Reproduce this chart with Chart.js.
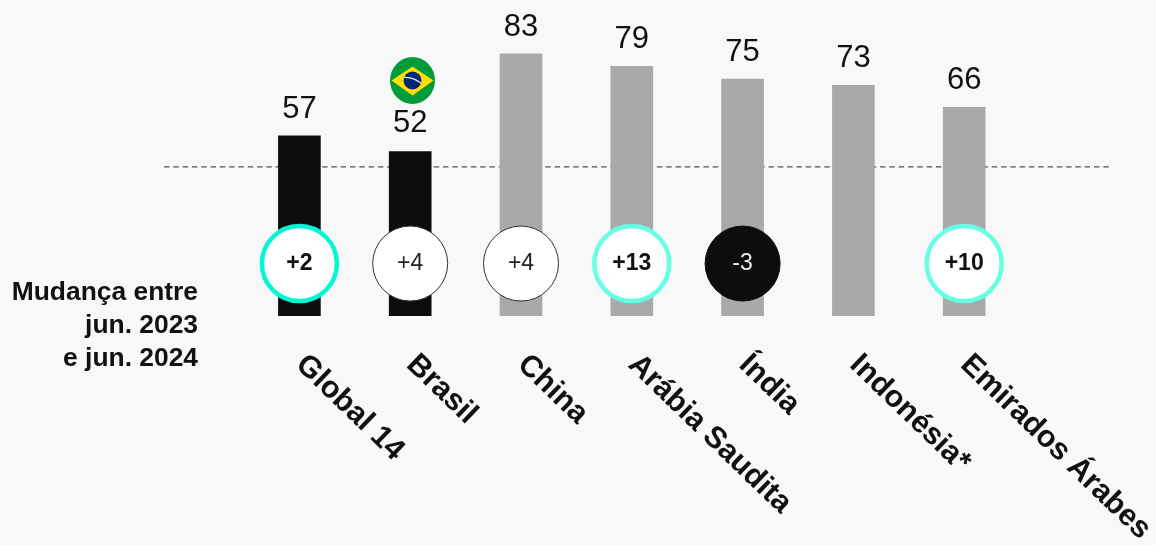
<!DOCTYPE html>
<html lang="pt-BR">
<head>
<meta charset="utf-8">
<title>Mudança entre jun. 2023 e jun. 2024</title>
<script src="https://cdn.jsdelivr.net/npm/chart.js@4"></script>
<style>
  html, body { margin: 0; padding: 0; background: #f8f8f8; }
  #wrap { width: 1156px; height: 545px; }
</style>
</head>
<body>
<div id="wrap"><canvas id="chart" width="1156" height="545"></canvas></div>
<script>
const categories = ['Global 14', 'Brasil', 'China', 'Arábia Saudita', 'Índia', 'Indonésia*', 'Emirados Árabes'];
const values = [57, 52, 83, 79, 75, 73, 66];
const changes = ['+2', '+4', '+4', '+13', '-3', null, '+10'];
const sideLabel = ['Mudança entre', 'jun. 2023', 'e jun. 2024'];
const referenceValue = 47.2;
const badgeLevel = 16.6;

const FONT = '"Liberation Sans", Arial, sans-serif';
const barColors = ['#0d0d0d', '#0d0d0d', '#a9a9a9', '#a9a9a9', '#a9a9a9', '#a9a9a9', '#a9a9a9'];
const badgeFill = ['#ffffff', '#ffffff', '#ffffff', '#ffffff', '#0d0d0d', '#ffffff', '#ffffff'];
const badgeBorder = ['#00f8d4', '#333333', '#333333', '#66ffe4', '#0d0d0d', '#ffffff', '#66ffe4'];
const badgeBorderWidth = [4.5, 1, 1, 4.5, 1, 0, 4.5];
const badgeBold = [true, false, false, true, false, false, true];
const badgeText = ['#111111', '#222222', '#222222', '#111111', '#eeeeee', '#111111', '#111111'];

// Ligne pointillée derrière les barres
const referenceLine = {
  id: 'referenceLine',
  beforeDatasetsDraw(chart) {
    const ctx = chart.ctx;
    const y = chart.scales.y.getPixelForValue(referenceValue);
    ctx.save();
    ctx.strokeStyle = '#505050';
    ctx.lineWidth = 1.4;
    ctx.setLineDash([5.5, 3.8]);
    ctx.beginPath();
    ctx.moveTo(164, y);
    ctx.lineTo(1112, y);
    ctx.stroke();
    ctx.restore();
  },
};

// Textes : valeurs, badges, catégories inclinées, drapeau
const annotations = {
  id: 'annotations',
  afterDraw(chart) {
    const ctx = chart.ctx;
    const xs = chart.scales.x;
    const ys = chart.scales.y;
    ctx.save();

    values.forEach((v, i) => {
      const x = xs.getPixelForValue(i);
      ctx.fillStyle = '#111111';
      ctx.font = '31px ' + FONT;
      ctx.textAlign = 'center';
      ctx.textBaseline = 'alphabetic';
      // Le 52 est un peu plus haut à cause du drapeau
      ctx.fillText(String(v), x, ys.getPixelForValue(v) - (i === 1 ? 20 : 18));

      if (changes[i]) {
        ctx.fillStyle = badgeText[i];
        ctx.font = (badgeBold[i] ? 'bold ' : '') + '23px ' + FONT;
        ctx.textBaseline = 'middle';
        ctx.fillText(changes[i], x, ys.getPixelForValue(badgeLevel) + 0.5);
      }

      ctx.save();
      ctx.translate(x + 1, 360);
      ctx.rotate((44 * Math.PI) / 180);
      ctx.fillStyle = '#111111';
      ctx.font = 'bold 30.5px ' + FONT;
      ctx.textAlign = 'left';
      ctx.textBaseline = 'middle';
      ctx.fillText(categories[i], 0, 0);
      ctx.restore();
    });

    ctx.fillStyle = '#111111';
    ctx.font = 'bold 26.4px ' + FONT;
    ctx.textAlign = 'right';
    ctx.textBaseline = 'alphabetic';
    sideLabel.forEach((line, i) => ctx.fillText(line, 198, 300 + i * 33));

    drawFlag(ctx, 412.5, 80.5);
    ctx.restore();
  },
};

function drawFlag(ctx, cx, cy) {
  ctx.save();
  ctx.beginPath();
  ctx.ellipse(cx, cy, 22.5, 23.5, 0, 0, Math.PI * 2);
  ctx.fillStyle = '#009c3b';
  ctx.fill();
  ctx.beginPath();
  ctx.moveTo(cx - 21, cy);
  ctx.lineTo(cx, cy - 14);
  ctx.lineTo(cx + 21, cy);
  ctx.lineTo(cx, cy + 15);
  ctx.closePath();
  ctx.fillStyle = '#ffdf00';
  ctx.fill();
  ctx.beginPath();
  ctx.arc(cx, cy, 9, 0, Math.PI * 2);
  ctx.fillStyle = '#002776';
  ctx.fill();
  ctx.clip();
  ctx.beginPath();
  ctx.moveTo(cx - 9, cy - 3);
  ctx.quadraticCurveTo(cx, cy - 4, cx + 9, cy + 3);
  ctx.strokeStyle = '#e8e8e8';
  ctx.lineWidth = 1.2;
  ctx.stroke();
  ctx.restore();
}

new Chart(document.getElementById('chart'), {
  data: {
    labels: categories,
    datasets: [
      {
        type: 'line',
        data: changes.map((c) => (c ? badgeLevel : null)),
        showLine: false,
        pointRadius: 37.5,
        pointBackgroundColor: badgeFill,
        pointBorderColor: badgeBorder,
        pointBorderWidth: badgeBorderWidth,
        order: 1,
      },
      {
        type: 'bar',
        data: values,
        backgroundColor: barColors,
        barThickness: 42,
        order: 2,
      },
    ],
  },
  options: {
    responsive: false,
    animation: false,
    layout: { autoPadding: false, padding: { left: 244, right: 136.4, top: 0, bottom: 229 } },
    scales: {
      x: { display: false },
      y: { display: false, min: 0, max: 100 },
    },
    plugins: { legend: { display: false }, tooltip: { enabled: false } },
  },
  plugins: [
    {
      id: 'background',
      beforeDraw(chart) {
        chart.ctx.fillStyle = '#f8f8f8';
        chart.ctx.fillRect(0, 0, chart.width, chart.height);
      },
    },
    referenceLine,
    annotations,
  ],
});
</script>
</body>
</html>
